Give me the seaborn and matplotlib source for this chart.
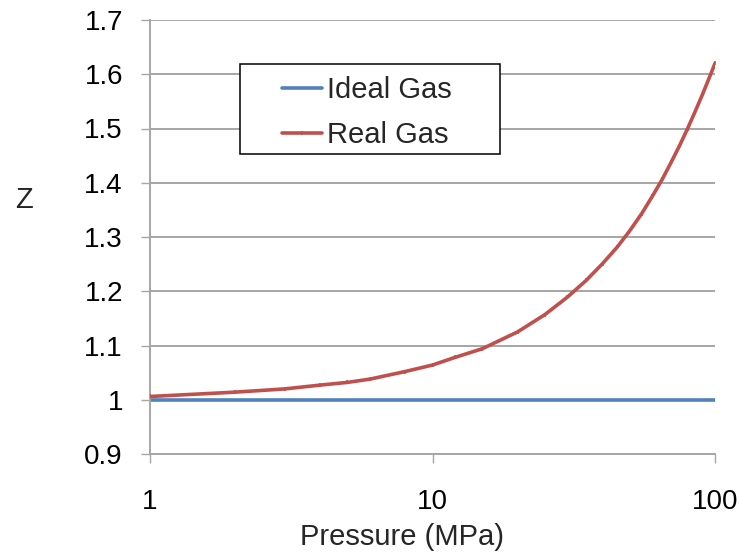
import matplotlib
matplotlib.use("Agg")
import matplotlib.pyplot as plt
from matplotlib.patches import Rectangle
from matplotlib.lines import Line2D
import seaborn as sns
import pandas as pd

# Compressibility factor vs. pressure
pressure_mpa = [1, 2, 3, 4, 5, 6, 8, 10, 12, 15, 20, 25, 30, 35, 40, 45, 50,
                55, 60, 65, 70, 75, 80, 85, 90, 95, 100]
z_real = [1.006, 1.014, 1.020, 1.027, 1.032, 1.038, 1.052, 1.064, 1.078, 1.094,
          1.125, 1.157, 1.189, 1.220, 1.251, 1.281, 1.312, 1.343, 1.375, 1.406,
          1.438, 1.469, 1.500, 1.531, 1.561, 1.591, 1.620]
z_ideal = [1.0] * len(pressure_mpa)

series_names = ["Ideal Gas", "Real Gas"]
y_ticks = [0.9, 1.0, 1.1, 1.2, 1.3, 1.4, 1.5, 1.6, 1.7]
y_tick_labels = ["0.9", "1", "1.1", "1.2", "1.3", "1.4", "1.5", "1.6", "1.7"]
x_ticks = [1, 10, 100]
x_tick_labels = ["1", "10", "100"]

df = pd.DataFrame({
    "Pressure": pressure_mpa * 2,
    "Z": z_ideal + z_real,
    "Series": [series_names[0]] * len(pressure_mpa) + [series_names[1]] * len(pressure_mpa),
})

sns.set_theme(style="white")
plt.rcParams["font.family"] = ["Liberation Sans", "DejaVu Sans"]

blue = "#4F81BD"
red = "#C0504D"
grid_c = "#A6A6A6"
tick_fs = 20
label_fs = 21

fig = plt.figure(figsize=(7.44, 5.52), dpi=100)
ax = fig.add_axes([150 / 744, 1 - 454 / 552, 565 / 744, 434 / 552])
ax.set_xscale("log")

sns.lineplot(data=df[df["Series"] == series_names[1]], x="Pressure", y="Z",
             color=red, lw=2.6, marker="|", markersize=3, markeredgewidth=1.2,
             markeredgecolor=red, ax=ax, legend=False, zorder=3)
sns.lineplot(data=df[df["Series"] == series_names[0]], x="Pressure", y="Z",
             color=blue, lw=2.6, ax=ax, legend=False, zorder=2)

ax.set_xlim(1, 100)
ax.set_ylim(0.9, 1.7)
ax.set_yticks(y_ticks)
ax.set_yticklabels(y_tick_labels)
ax.set_xticks(x_ticks)
ax.set_xticklabels(x_tick_labels)
ax.minorticks_off()
ax.set_xlabel("")
ax.set_ylabel("")

ax.grid(axis="y", color=grid_c, lw=1.4)
ax.grid(axis="x", visible=False)
ax.set_axisbelow(True)
for s in ["top", "right"]:
    ax.spines[s].set_visible(False)
for s in ["left", "bottom"]:
    ax.spines[s].set_color(grid_c)
    ax.spines[s].set_linewidth(1.4)

ax.tick_params(axis="y", direction="out", length=6.5, width=1.0, color=grid_c,
               pad=13, labelsize=tick_fs, labelcolor="black", left=True)
ax.tick_params(axis="x", direction="out", length=6.5, width=1.0, color=grid_c,
               pad=19, labelsize=tick_fs, labelcolor="black", bottom=True)

fig.text(402 / 744, 1 - 537 / 552, "Pressure (MPa)", ha="center", va="center",
         fontsize=label_fs)
fig.text(24 / 744, 1 - 200 / 552, "Z", ha="center", va="center", fontsize=label_fs)

# Legend box with white fill over the gridlines
fig.add_artist(Rectangle((240 / 744, 1 - 154 / 552), 260 / 744, 90 / 552,
                         transform=fig.transFigure, facecolor="white",
                         edgecolor="black", lw=1.1, zorder=5))
handles = [Line2D([], [], color=blue, lw=2.6),
           Line2D([], [], color=red, lw=2.6, marker="|", markersize=3,
                  markeredgewidth=1.2)]
fig.legend(handles, series_names, loc="upper left",
           bbox_to_anchor=(282 / 744, 1 - 76 / 552), bbox_transform=fig.transFigure,
           frameon=False, fontsize=label_fs, handlelength=1.38, handletextpad=0.17,
           labelspacing=0.58, borderpad=0, borderaxespad=0).set_zorder(6)

fig.savefig("out.png", dpi=100)
